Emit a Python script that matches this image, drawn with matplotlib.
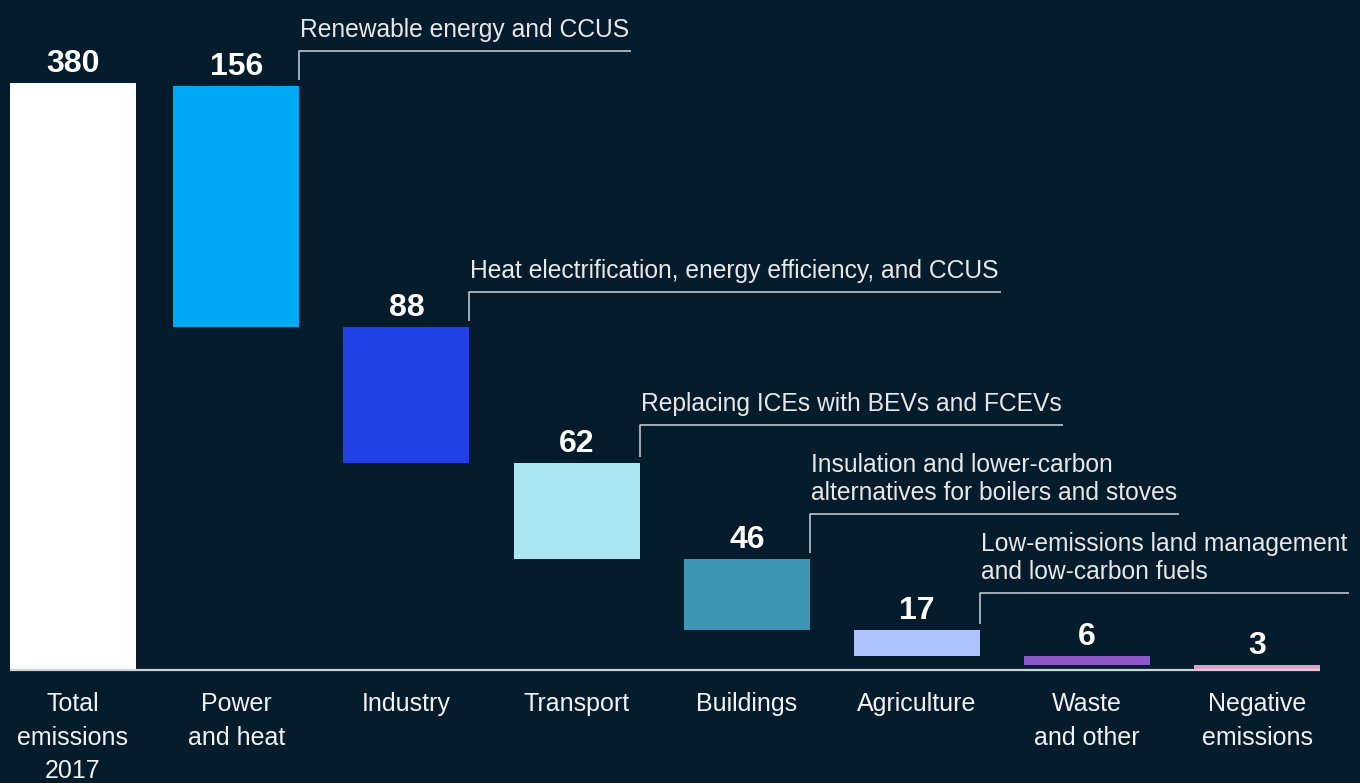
import matplotlib.pyplot as plt
import numpy as np

categories = ['Total\nemissions\n2017', 'Power\nand heat', 'Industry', 'Transport',
              'Buildings', 'Agriculture', 'Waste\nand other', 'Negative\nemissions']
values = [380, 156, 88, 62, 46, 17, 6, 3]
colors = ['#ffffff', '#00a9f4', '#2140e6', '#aae6f0', '#3c96b4', '#afc3ff', '#8c5ac8', '#e6a0c8']
notes = ['Renewable energy and CCUS',
         'Heat electrification, energy efficiency, and CCUS',
         'Replacing ICEs with BEVs and FCEVs',
         'Insulation and lower-carbon\nalternatives for boilers and stoves',
         'Low-emissions land management\nand low-carbon fuels']

BG = '#051c2c'
plt.rcParams['font.family'] = ['Liberation Sans', 'DejaVu Sans']


def main():
    fig = plt.figure(figsize=(13.6, 7.83), dpi=100, facecolor=BG)
    ax = fig.add_axes([0, 0, 1, 1])
    ax.set_facecolor(BG)
    ax.set_xlim(-0.388, 7.603)
    ax.set_ylim(-73.1, 433.6)
    ax.axis('off')

    # waterfall: first bar from 0, the rest stacked down towards 0
    xs = np.arange(len(values)).astype(float)
    xs[0] = 0.04
    bottoms = [0] + [sum(values[i + 1:]) for i in range(1, len(values))]
    w = 0.74
    ax.bar(xs, values, bottom=bottoms, width=w, color=colors, linewidth=0)

    ax.hlines(0, xs[0] - w / 2, xs[-1] + w / 2, color='#cfd3d6', lw=1.6)

    for x, v, b, lab in zip(xs, values, bottoms, categories):
        ax.annotate(str(v), (x, b + v), xytext=(0, 8), textcoords='offset points',
                    ha='center', va='baseline', color='white', fontsize=23, fontweight='bold')
        ax.annotate(lab, (x, 0), xytext=(0, -16), textcoords='offset points',
                    ha='center', va='top', color='#f2f2f2', fontsize=18, linespacing=1.5)

    # brackets with the levers
    rises = [35, 35, 38, 45, 37]
    renderer = fig.canvas.get_renderer()
    inv = ax.transData.inverted()
    for i, note in enumerate(notes):
        k = i + 1
        px, py = ax.transData.transform((xs[k] + w / 2, bottoms[k] + values[k]))
        ytop = py + rises[i]
        tx, ty = inv.transform((px + 1, ytop + 9))
        t = ax.text(tx, ty, note, ha='left', va='bottom', color='#e8e8e8',
                    fontsize=17.7, linespacing=1.2)
        x_end = t.get_window_extent(renderer).x1 + 2
        pts = inv.transform([(px, py + 6), (px, ytop), (x_end, ytop)])
        ax.plot(pts[:, 0], pts[:, 1], color='#cfd3d6', lw=1.1, solid_capstyle='butt')

    plt.savefig('out.png', dpi=100, facecolor=BG)
    plt.close()


if __name__ == '__main__':
    main()
